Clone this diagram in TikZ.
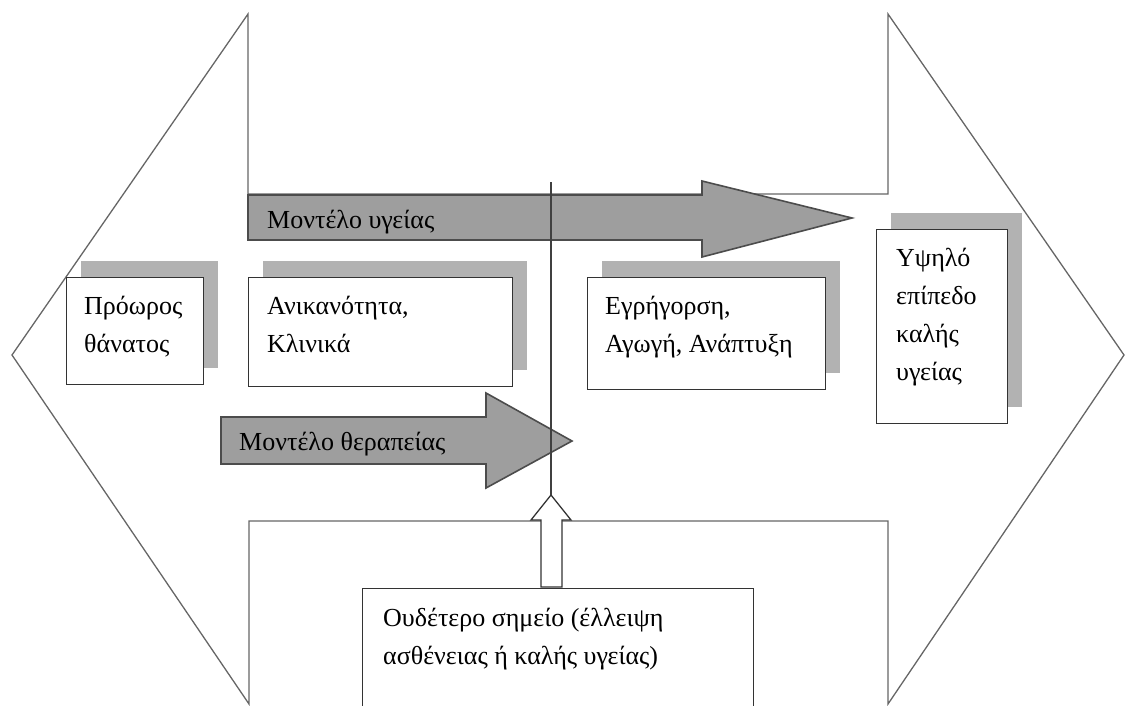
\documentclass[tikz,border=0pt]{standalone}
\usepackage{fontspec}
\setmainfont{Liberation Serif}
\usetikzlibrary{shadows}

\begin{document}
\begin{tikzpicture}[x=1pt,y=-1pt]
	\tikzstyle{outline} = [draw=black!60, line width=1.3pt, line join=miter]
	\tikzstyle{model} = [draw=black!70, fill=black!38, line width=1.6pt]
	\tikzstyle{card} = [draw=black!80, fill=white, line width=1.3pt, anchor=north west, inner sep=0pt]
	\tikzstyle{box} = [card, general shadow={shadow xshift=14pt, shadow yshift=17pt, fill=black!30}]
	\tikzstyle{txt} = [anchor=north west, align=left, inner sep=0pt, font=\fontsize{26}{38}\selectfont]
	\useasboundingbox (0,0) rectangle (1126,706);
	\draw[outline] (248,194) -- (248,14) -- (12,355) -- (249,704) -- (249,521) -- (888,521)
		-- (888,704) -- (1124,355) -- (888,14) -- (888,194) -- cycle;
	\filldraw[model] (248,195) -- (702,195) -- (702,181) -- (852,218) -- (702,257) -- (702,240) -- (248,240) -- cycle;
	\filldraw[model] (221,417) -- (486,417) -- (486,393) -- (572,441) -- (486,488) -- (486,464) -- (221,464) -- cycle;
		\node[txt, anchor=base west] (healthtxt) at (267,228) {Μοντέλο υγείας};
		\node[txt, anchor=base west] (curetxt) at (239,450) {Μοντέλο θεραπείας};
		\node[box, minimum width=137, minimum height=107] (death) at (66,277) {};
		\node[box, minimum width=264, minimum height=109] (disab) at (248,277) {};
		\node[box, minimum width=238, minimum height=112] (alert) at (587,277) {};
		\node[box, minimum width=131, minimum height=194] (high) at (876,229) {};
		\node[txt] (deathtxt) at ([shift={(18,11)}]death.north west) {\strut Πρόωρος\\θάνατος};
		\node[txt] (disabtxt) at ([shift={(19,11)}]disab.north west) {\strut Ανικανότητα,\\Κλινικά};
		\node[txt] (alerttxt) at ([shift={(18,11)}]alert.north west) {\strut Εγρήγορση,\\Αγωγή, Ανάπτυξη};
		\node[txt] (hightxt) at ([shift={(20,11)}]high.north west) {\strut Υψηλό\\επίπεδο\\καλής\\υγείας};
	\filldraw[card] (541,587) -- (541,520) -- (531,520) -- (551,495) coordinate (uptip) -- (571,520) -- (562,520) -- (562,587) -- cycle;
		\node[card, minimum width=391, minimum height=140] (neutral) at (362,588) {};
		\node[txt] (neutraltxt) at ([shift={(21,12)}]neutral.north west) {\strut Ουδέτερο σημείο (έλλειψη\\ασθένειας ή καλής υγείας)};
		\coordinate (axtop) at (551,182);
	\draw[black!75, line width=1.2pt] (axtop) -- (uptip);
\end{tikzpicture}
\end{document}
